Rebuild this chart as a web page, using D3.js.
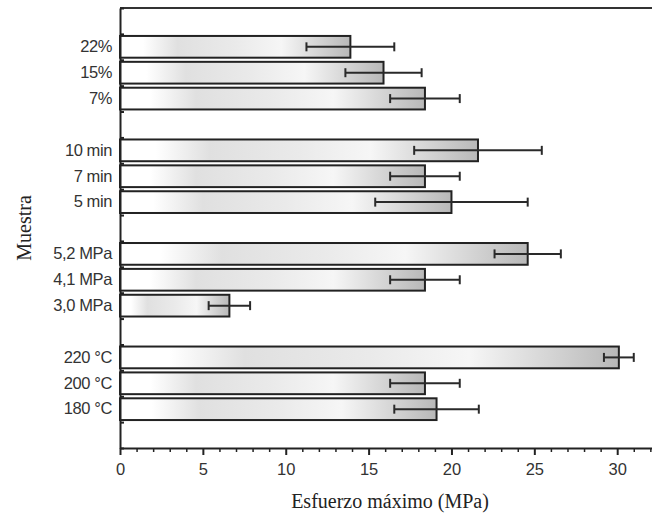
<!DOCTYPE html>
<html>
<head>
<meta charset="utf-8">
<script src="https://cdn.jsdelivr.net/npm/d3@7"></script>
<style>
  body { margin: 0; background: #fff; }
  .tick text { font-family: "Liberation Sans", Arial, sans-serif; fill: #333; }
  .label { font-family: "Liberation Serif", "Times New Roman", serif; fill: #222; }
</style>
</head>
<body>
<div id="chart"></div>
<script>
// samples, top to bottom, in groups of three
const categories = ['22%', '15%', '7%', '10 min', '7 min', '5 min',
    '5,2 MPa', '4,1 MPa', '3,0 MPa', '220 °C', '200 °C', '180 °C']
const values = [13.9, 15.9, 18.4, 21.6, 18.4, 20.0, 24.6, 18.4, 6.6, 30.1, 18.4, 19.1]
const errors = [2.65, 2.3, 2.1, 3.85, 2.1, 4.6, 2.0, 2.1, 1.25, 0.9, 2.1, 2.55]
const xTicks = [0, 5, 10, 15, 20, 25, 30]

let W = 652, H = 514
let margin = { top: 8, right: 0, bottom: 66, left: 120 }

// one empty slot before each group and one at the end
let slots = []
categories.forEach((c, i) => {
    if (i % 3 === 0) slots.push('gap' + i)
    slots.push(c)
})
slots.push('gapEnd')

let data = categories.map((c, i) => ({ name: c, value: values[i], err: errors[i] }))

let x = d3.scaleLinear()
    .domain([0, 32.1])
    .range([margin.left, W - margin.right])

let y = d3.scaleBand()
    .domain(slots)
    .range([margin.top, H - margin.bottom])

let yEdge = d3.scaleLinear()
    .domain([0, slots.length])
    .range([margin.top, H - margin.bottom])

let svg = d3.select('#chart').append('svg')
    .attr('width', W)
    .attr('height', H)

let grad = svg.append('defs').append('linearGradient')
    .attr('id', 'barFill')
    .attr('x1', 0).attr('x2', 1).attr('y1', 0).attr('y2', 0)
let stops = [[0, '#ffffff'], [0.1, '#ffffff'], [0.25, '#e0e0e0'], [0.5, '#eaeaea'],
    [0.7, '#f6f6f6'], [1, '#b8b8b8']]
stops.forEach(s => grad.append('stop').attr('offset', s[0]).attr('stop-color', s[1]))

let inset = y.bandwidth() * 0.08

// bars
svg.selectAll('.bar')
    .data(data)
    .enter().append('rect')
    .attr('class', 'bar')
    .attr('x', x(0))
    .attr('y', d => y(d.name) + inset)
    .attr('width', d => x(d.value) - x(0))
    .attr('height', y.bandwidth() - 2 * inset)
    .attr('fill', 'url(#barFill)')
    .attr('stroke', '#222')
    .attr('stroke-width', 2)

// error bars
let eb = svg.selectAll('.err')
    .data(data)
    .enter().append('g')
    .attr('class', 'err')
    .attr('stroke', '#2a2a2a')
    .attr('stroke-width', 2)
eb.append('line')
    .attr('x1', d => x(d.value - d.err))
    .attr('x2', d => x(d.value + d.err))
    .attr('y1', d => y(d.name) + y.bandwidth() / 2)
    .attr('y2', d => y(d.name) + y.bandwidth() / 2)
eb.selectAll('.cap')
    .data(d => [[d.value - d.err, d.name], [d.value + d.err, d.name]])
    .enter().append('line')
    .attr('x1', d => x(d[0]))
    .attr('x2', d => x(d[0]))
    .attr('y1', d => y(d[1]) + y.bandwidth() / 2 - 4.5)
    .attr('y2', d => y(d[1]) + y.bandwidth() / 2 + 4.5)

// top frame line
svg.append('line')
    .attr('x1', x(0)).attr('x2', W)
    .attr('y1', margin.top).attr('y2', margin.top)
    .attr('stroke', '#333').attr('stroke-width', 2)

// x axis: minor then major ticks
let xBase = H - margin.bottom
svg.append('g')
    .attr('transform', `translate(0, ${xBase})`)
    .call(d3.axisBottom(x).tickValues(d3.range(0, 33).filter(v => v % 5 !== 0))
        .tickSize(4).tickFormat(''))
    .call(g => g.select('.domain').remove())
    .call(g => g.selectAll('line').attr('stroke', '#222').attr('stroke-width', 1.5))

svg.append('g')
    .attr('transform', `translate(0, ${xBase})`)
    .call(d3.axisBottom(x).tickValues(xTicks).tickSize(7).tickPadding(8).tickSizeOuter(0))
    .call(g => g.select('.domain').attr('stroke', '#222').attr('stroke-width', 2))
    .call(g => g.selectAll('.tick line').attr('stroke', '#222').attr('stroke-width', 2))
    .call(g => g.selectAll('.tick text').attr('font-size', 16.5))

// y axis: ticks between slots, labels at slot centres
svg.append('g')
    .attr('transform', `translate(${x(0)}, 0)`)
    .call(d3.axisLeft(yEdge).tickValues(d3.range(0, slots.length + 1))
        .tickSize(-4).tickSizeOuter(0).tickFormat(''))
    .call(g => g.select('.domain').attr('stroke', '#222').attr('stroke-width', 2))
    .call(g => g.selectAll('.tick line').attr('stroke', '#222').attr('stroke-width', 2))

svg.append('g')
    .attr('transform', `translate(${x(0)}, 0)`)
    .call(d3.axisLeft(y).tickSize(0).tickPadding(8)
        .tickFormat(d => d.startsWith('gap') ? '' : d))
    .call(g => g.select('.domain').remove())
    .call(g => g.selectAll('.tick text').attr('font-size', 16.5).attr('letter-spacing', -0.4))

// axis titles
svg.append('text')
    .attr('class', 'label')
    .attr('text-anchor', 'middle')
    .attr('x', 390)
    .attr('y', 508)
    .attr('font-size', 20)
    .text('Esfuerzo máximo (MPa)')

svg.append('text')
    .attr('class', 'label')
    .attr('text-anchor', 'middle')
    .attr('transform', 'translate(31, 228) rotate(-90)')
    .attr('font-size', 20)
    .text('Muestra')
</script>
</body>
</html>
